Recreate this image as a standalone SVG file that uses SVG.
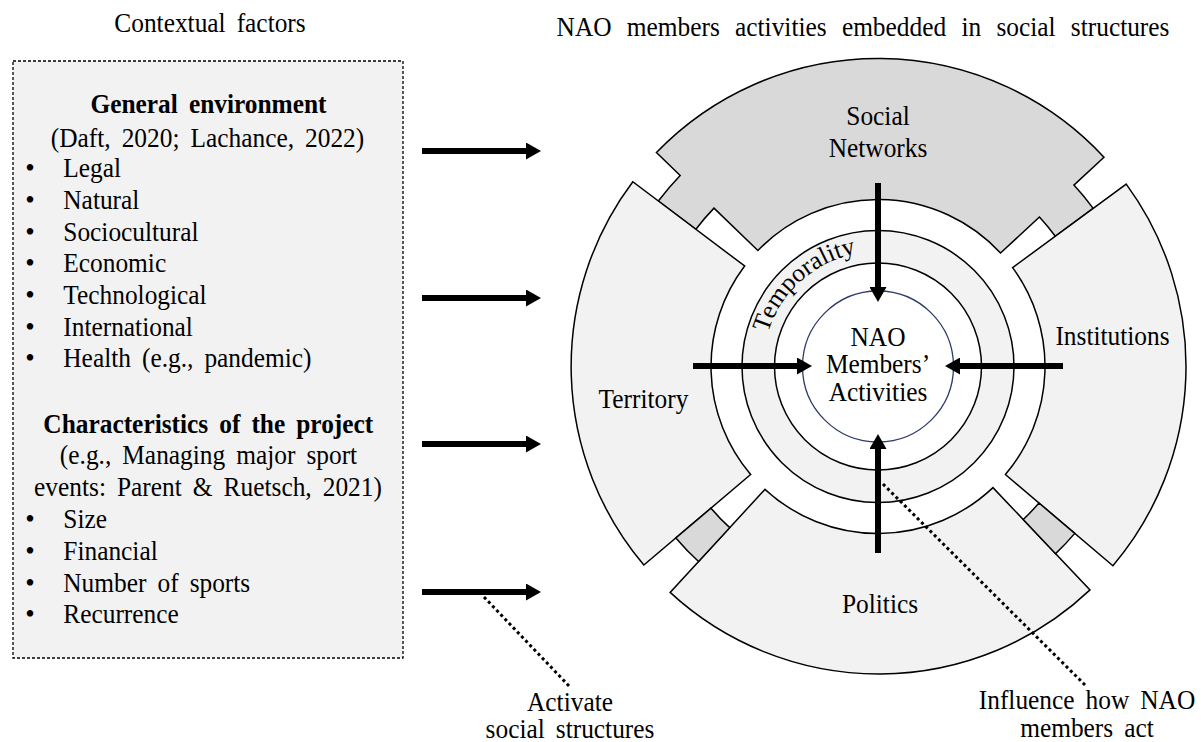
<svg xmlns="http://www.w3.org/2000/svg" width="1201" height="742" viewBox="0 0 1201 742">
  <style>
    text { font-family: "Liberation Serif", "Times New Roman", serif; font-size: 27px; fill: #000; word-spacing: 5px; }
    .c { text-anchor: middle; }
    .b { font-weight: bold; }
    .wide { word-spacing: 9.5px; }
    .piece { fill: #f2f2f2; stroke: #000; stroke-width: 1.5; stroke-linejoin: miter; }
    .dark { fill: #d9d9d9; }
    .ring { stroke: #000; stroke-width: 1.5; }
    .arrow { stroke: #000; stroke-width: 6; fill: none; marker-end: url(#head); }
    .dot { stroke: #000; stroke-width: 3; stroke-dasharray: 3 3; fill: none; }
  </style>
  <defs>
    <marker id="head" viewBox="0 0 15 17" refX="2" refY="8.5" markerWidth="15" markerHeight="17" markerUnits="userSpaceOnUse" orient="auto">
      <path d="M0,0 L15,8.5 L0,17 Z" fill="#000"/>
    </marker>
    <path id="temporal-arc" d="M768.03,332.88 A115,115 0 0 1 871.98,251.66"/>
  </defs>

  <rect width="1201" height="742" fill="#fff"/>

  <!-- headings -->
  <g id="title-context">
    <text class="c" transform="translate(210 32) scale(.94 1)">Contextual factors</text>
  </g>
  <g id="title-structures">
    <text class="c wide" transform="translate(863 36) scale(.94 1)">NAO members activities embedded in social structures</text>
  </g>

  <!-- contextual factors box -->
  <g id="context-box">
    <rect x="13" y="61" width="390" height="597" fill="#f2f2f2" stroke="#000" stroke-width="1.3" stroke-dasharray="3 2"/>
    <text class="c b" transform="translate(208.5 113.3) scale(.94 1)">General environment</text>
    <text class="c" transform="translate(207.5 146.7) scale(.94 1)">(Daft, 2020; Lachance, 2022)</text>
    <g class="bullets">
      <text class="c" transform="translate(30 177.3)">•</text>
      <text transform="translate(63.3 177.3) scale(.94 1)">Legal</text>
      <text class="c" transform="translate(30 209)">•</text>
      <text transform="translate(63.3 209) scale(.94 1)">Natural</text>
      <text class="c" transform="translate(30 240.7)">•</text>
      <text transform="translate(63.3 240.7) scale(.94 1)">Sociocultural</text>
      <text class="c" transform="translate(30 272.3)">•</text>
      <text transform="translate(63.3 272.3) scale(.94 1)">Economic</text>
      <text class="c" transform="translate(30 304)">•</text>
      <text transform="translate(63.3 304) scale(.94 1)">Technological</text>
      <text class="c" transform="translate(30 335.7)">•</text>
      <text transform="translate(63.3 335.7) scale(.94 1)">International</text>
      <text class="c" transform="translate(30 367.4)">•</text>
      <text transform="translate(63.3 367.4) scale(.94 1)">Health (e.g., pandemic)</text>
    </g>
    <text class="c b" transform="translate(208.3 432.7) scale(.94 1)">Characteristics of the project</text>
    <text class="c" transform="translate(208.5 464.3) scale(.94 1)">(e.g., Managing major sport</text>
    <text class="c" transform="translate(208 496) scale(.94 1)">events: Parent &amp; Ruetsch, 2021)</text>
    <g class="bullets">
      <text class="c" transform="translate(30 528.3)">•</text>
      <text transform="translate(63.3 528.3) scale(.94 1)">Size</text>
      <text class="c" transform="translate(30 560)">•</text>
      <text transform="translate(63.3 560) scale(.94 1)">Financial</text>
      <text class="c" transform="translate(30 591.7)">•</text>
      <text transform="translate(63.3 591.7) scale(.94 1)">Number of sports</text>
      <text class="c" transform="translate(30 623.3)">•</text>
      <text transform="translate(63.3 623.3) scale(.94 1)">Recurrence</text>
    </g>
  </g>

  <!-- outer puzzle pieces (centre 878,366.5) -->
  <g id="social-networks">
    <path class="piece dark" d="M656.44,152.54 A308,308 0 0 1 1103.99,157.23 L1073.91,185.09 A267,267 0 0 1 1093.18,208.43 L1055.30,236.26 A220,220 0 0 0 1039.42,217.02 L1000.53,253.03 A167,167 0 0 0 757.87,250.49 L713.99,208.12 A228,228 0 0 0 695.91,229.29 L658.37,201.0 A275,275 0 0 1 680.18,175.47 Z"/>
    <text class="c" transform="translate(878 124.5) scale(.94 1)">Social</text>
    <text class="c" transform="translate(878 156.7) scale(.94 1)">Networks</text>
  </g>
  <g id="territory">
    <path class="piece" d="M632.82,181.74 A307.5,307.5 0 0 0 643.86,565.06 L750.63,474.51 A167,167 0 0 1 744.63,266.0 Z"/>
    <text class="c" transform="translate(643.5 408) scale(.94 1)">Territory</text>
  </g>
  <g id="institutions">
    <path class="piece" d="M1126.23,184.16 A308,308 0 0 1 1112.9,565.71 L1005.37,474.51 A167,167 0 0 0 1012.59,267.63 Z"/>
    <text class="c" transform="translate(1112.5 345) scale(.94 1)">Institutions</text>
  </g>
  <g id="politics">
    <path class="piece" d="M764.93,489.40 L670.13,592.42 A307.5,307.5 0 0 0 1090.01,589.91 L992.95,487.64 A167,167 0 0 1 764.93,489.40 Z"/>
    <path class="piece dark" d="M710.98,508.15 L675.89,537.9 A265,265 0 0 0 698.57,561.51 L729.72,527.66 A219,219 0 0 1 710.98,508.15 Z"/>
    <path class="piece dark" d="M1038.92,502.97 L1074.77,533.37 A258,258 0 0 1 1055.59,553.65 L1023.24,519.55 A211,211 0 0 0 1038.92,502.97 Z"/>
    <text class="c" transform="translate(880 613) scale(.94 1)">Politics</text>
  </g>

  <!-- inner rings -->
  <g id="temporality">
    <circle class="ring" cx="878" cy="366.5" r="136" fill="#f2f2f2"/>
    <circle class="ring" cx="878" cy="366.5" r="103.5" fill="#fff"/>
    <text style="font-size:25.5px;word-spacing:0"><textPath href="#temporal-arc">Temporality</textPath></text>
  </g>
  <g id="nao-activities">
    <circle cx="878" cy="366.5" r="75.5" fill="#fff" stroke="#2b3a67" stroke-width="1.3"/>
    <text class="c" transform="translate(878 346) scale(.94 1)">NAO</text>
    <text class="c" transform="translate(878 373.3) scale(.94 1)">Members’</text>
    <text class="c" transform="translate(878 401) scale(.94 1)">Activities</text>
  </g>

  <!-- connectors -->
  <g id="connectors">
    <path class="arrow" d="M422,151 L528,151"/>
    <path class="arrow" d="M422,298 L528,298"/>
    <path class="arrow" d="M422,444 L528,444"/>
    <path class="arrow" d="M422,592 L528,592"/>
    <path class="arrow" d="M878,183 L878,289"/>
    <path class="arrow" d="M693,366 L799,366"/>
    <path class="arrow" d="M1063,366 L958,366"/>
    <path class="arrow" d="M878,553 L878,447"/>
    <path class="dot" d="M484,597 L570,687"/>
    <path class="dot" d="M883,484 L1085,685"/>
  </g>

  <!-- annotations -->
  <g id="note-activate">
    <text class="c" transform="translate(570 711) scale(.94 1)">Activate</text>
    <text class="c" transform="translate(570 738) scale(.94 1)">social structures</text>
  </g>
  <g id="note-influence">
    <text class="c" transform="translate(1087 709) scale(.94 1)">Influence how NAO</text>
    <text class="c" transform="translate(1087 737) scale(.94 1)">members act</text>
  </g>
</svg>
